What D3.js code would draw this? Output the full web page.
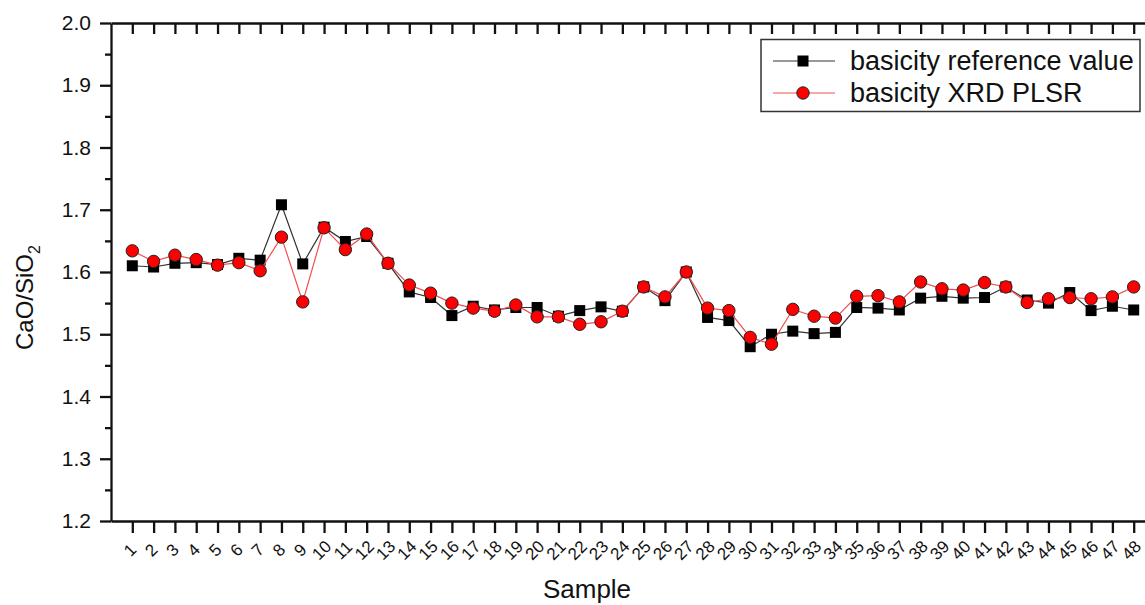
<!DOCTYPE html>
<html>
<head>
<meta charset="utf-8">
<script src="https://cdn.jsdelivr.net/npm/d3@7"></script>
<style>
  body { margin: 0; background: #fff; }
  svg { display: block; font-family: "Liberation Sans", Arial, sans-serif; }
  .axis path, .axis line { stroke: #111; }
</style>
</head>
<body>
<div id="chart"></div>
<script>
// samples 1..48
const samples = d3.range(1, 49);

// basicity reference value (black squares)
const refValues = [
  1.610, 1.608, 1.614, 1.615, 1.612, 1.622, 1.619, 1.708, 1.613, 1.672,
  1.649, 1.657, 1.614, 1.568, 1.559, 1.530, 1.545, 1.539, 1.543, 1.543,
  1.529, 1.538, 1.544, 1.537, 1.576, 1.554, 1.600, 1.527, 1.522, 1.480,
  1.500, 1.505, 1.501, 1.503, 1.543, 1.542, 1.539, 1.558, 1.561, 1.558,
  1.559, 1.576, 1.555, 1.550, 1.567, 1.538, 1.545, 1.539
];

// basicity XRD PLSR (red circles)
const plsrValues = [
  1.634, 1.617, 1.627, 1.620, 1.611, 1.615, 1.602, 1.656, 1.552, 1.671,
  1.636, 1.661, 1.614, 1.579, 1.566, 1.550, 1.542, 1.537, 1.547, 1.528,
  1.528, 1.516, 1.520, 1.537, 1.576, 1.560, 1.600, 1.542, 1.538, 1.495,
  1.484, 1.540, 1.529, 1.526, 1.561, 1.562, 1.552, 1.584, 1.573, 1.571,
  1.583, 1.576, 1.551, 1.557, 1.559, 1.557, 1.560, 1.576
];

const yTicks = [1.2, 1.3, 1.4, 1.5, 1.6, 1.7, 1.8, 1.9, 2.0];
const yMinor = [1.25, 1.35, 1.45, 1.55, 1.65, 1.75, 1.85, 1.95];

const legendItems = ['basicity reference value', 'basicity XRD PLSR'];

const W = 1145, H = 605;
const margin = { top: 23, left: 111, bottom: 84 };

const x = d3.scaleLinear().domain([0, 49]).range([margin.left, 1155]);
const y = d3.scaleLinear().domain([1.2, 2.0]).range([H - margin.bottom, margin.top]);

const svg = d3.select('#chart').append('svg')
  .attr('width', W)
  .attr('height', H);

const fmt = d3.format('.1f');
const axisW = 2.3;

// bottom axis, ticks outward with rotated labels
const xBottom = svg.append('g')
  .attr('class', 'axis x-bottom')
  .attr('transform', `translate(0,${y(1.2)})`)
  .call(d3.axisBottom(x).tickValues(samples).tickSize(12).tickSizeOuter(0).tickFormat(d => d));
xBottom.select('.domain').attr('stroke-width', axisW);
xBottom.selectAll('.tick line').attr('stroke-width', axisW);
xBottom.selectAll('.tick text')
  .attr('x', 0).attr('y', 0).attr('dy', '0.35em')
  .attr('transform', 'translate(-3,29) rotate(-45)')
  .style('text-anchor', 'middle')
  .style('font-size', '17px')
  .attr('fill', '#111');

// top axis, ticks inward
const xTop = svg.append('g')
  .attr('class', 'axis x-top')
  .attr('transform', `translate(0,${y(2.0)})`)
  .call(d3.axisBottom(x).tickValues(samples).tickSize(11).tickSizeOuter(0).tickFormat(''));
xTop.select('.domain').attr('stroke-width', axisW);
xTop.selectAll('.tick line').attr('stroke-width', axisW);

// left axis
const yLeft = svg.append('g')
  .attr('class', 'axis y-left')
  .attr('transform', `translate(${x(0)},0)`)
  .call(d3.axisLeft(y).tickValues(yTicks).tickSize(11).tickSizeOuter(0).tickPadding(9).tickFormat(fmt));
yLeft.select('.domain').attr('stroke-width', axisW);
yLeft.selectAll('.tick line').attr('stroke-width', axisW);
yLeft.selectAll('.tick text').style('font-size', '21px').attr('fill', '#111');

svg.append('g')
  .attr('class', 'axis y-left-minor')
  .attr('transform', `translate(${x(0)},0)`)
  .call(d3.axisLeft(y).tickValues(yMinor).tickSize(6).tickSizeOuter(0).tickFormat(''))
  .call(g => g.select('.domain').remove())
  .selectAll('.tick line').attr('stroke-width', axisW);

// right axis, ticks inward (mostly outside the frame)
const yRight = svg.append('g')
  .attr('class', 'axis y-right')
  .attr('transform', `translate(${x(49)},0)`)
  .call(d3.axisLeft(y).tickValues(yTicks).tickSize(-11).tickSizeOuter(0).tickFormat(''));
yRight.select('.domain').attr('stroke-width', axisW);
yRight.selectAll('.tick line').attr('stroke-width', axisW);

// series
const refData = samples.map((s, i) => ({ s, v: refValues[i] }));
const plsrData = samples.map((s, i) => ({ s, v: plsrValues[i] }));

const line = d3.line().x(d => x(d.s)).y(d => y(d.v));

svg.append('path')
  .datum(refData)
  .attr('d', line)
  .attr('fill', 'none')
  .attr('stroke', '#333')
  .attr('stroke-width', 1.2);

svg.selectAll('rect.ref')
  .data(refData)
  .join('rect')
  .attr('class', 'ref')
  .attr('x', d => x(d.s) - 5.5)
  .attr('y', d => y(d.v) - 5.5)
  .attr('width', 11)
  .attr('height', 11)
  .attr('fill', '#000');

svg.append('path')
  .datum(plsrData)
  .attr('d', line)
  .attr('fill', 'none')
  .attr('stroke', '#f05050')
  .attr('stroke-width', 1.2);

svg.selectAll('circle.plsr')
  .data(plsrData)
  .join('circle')
  .attr('class', 'plsr')
  .attr('cx', d => x(d.s))
  .attr('cy', d => y(d.v))
  .attr('r', 6.2)
  .attr('fill', '#ff0000')
  .attr('stroke', '#222')
  .attr('stroke-width', 1);

// legend
const legend = svg.append('g').attr('class', 'legend');
legend.append('rect')
  .attr('x', 761).attr('y', 39.5)
  .attr('width', 379).attr('height', 72)
  .attr('fill', '#fff')
  .attr('stroke', '#333')
  .attr('stroke-width', 1.5);

const rows = legend.selectAll('g.row')
  .data(legendItems)
  .join('g')
  .attr('class', 'row')
  .attr('transform', (d, i) => `translate(0,${61 + i * 32})`);

rows.append('line')
  .attr('x1', 773).attr('x2', 835)
  .attr('stroke', (d, i) => i === 0 ? '#333' : '#f05050')
  .attr('stroke-width', 1.2);

rows.filter((d, i) => i === 0).append('rect')
  .attr('x', 797.5).attr('y', -5.5).attr('width', 11).attr('height', 11)
  .attr('fill', '#000');

rows.filter((d, i) => i === 1).append('circle')
  .attr('cx', 803).attr('r', 6.2)
  .attr('fill', '#ff0000').attr('stroke', '#222');

rows.append('text')
  .attr('x', 850)
  .attr('dy', '0.35em')
  .style('font-size', '27px')
  .attr('fill', '#111')
  .text(d => d);

// axis titles
svg.append('text')
  .attr('x', 587).attr('y', 598)
  .style('text-anchor', 'middle')
  .style('font-size', '26px')
  .attr('fill', '#111')
  .text('Sample');

const yTitle = svg.append('text')
  .attr('transform', 'translate(33,350) rotate(-90)')
  .style('font-size', '24px')
  .attr('fill', '#111');
yTitle.append('tspan').text('CaO/SiO');
yTitle.append('tspan').attr('dy', 7).style('font-size', '16px').text('2');
</script>
</body>
</html>
